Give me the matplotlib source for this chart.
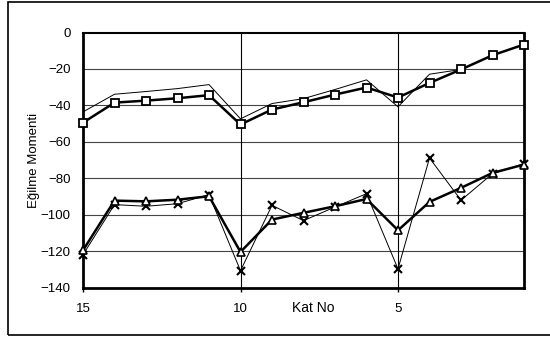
import numpy as np
import matplotlib.pyplot as plt
from matplotlib.patches import Rectangle

# kat numaraları (15 -> 1)
kat = list(range(15, 0, -1))

# üst seri: kare işaretli kalın çizgi ve işaretsiz ince çizgi
ust_kare = [-49.5, -38.5, -37.4, -36.1, -34.4, -50.5, -42.3, -38.3, -34.1, -30.2, -35.7, -27.7, -20.3, -12.5, -6.6]
ust_ince = [-43.6, -33.9, -32.4, -30.8, -28.6, -47.4, -39.0, -36.3, -31.3, -26.0, -40.8, -22.9, -20.3, -12.5, -6.6]

# alt seri: üçgen işaretli kalın çizgi ve çarpı işaretli ince çizgi
alt_ucgen = [-119.6, -92.3, -92.7, -91.8, -89.9, -120.5, -102.7, -99.0, -95.4, -91.4, -108.6, -93.0, -85.3, -77.1, -72.5]
alt_carpi = [-122.0, -94.5, -95.4, -94.0, -89.0, -130.8, -94.9, -103.3, -95.8, -88.5, -129.8, -68.9, -92.1, -77.5, -72.0]

y_ticks = [0, -20, -40, -60, -80, -100, -120, -140]
x_ticks = [15, 10, 5]

plt.rcParams['font.family'] = ['Liberation Sans', 'DejaVu Sans']

fig = plt.figure(figsize=(5.5, 3.37), dpi=100)
fig.patches.append(Rectangle((8 / 550, 2 / 337), 1.0, 333 / 337, transform=fig.transFigure,
                             fill=False, edgecolor='black', linewidth=1.2))

ax = fig.add_axes([83 / 550, 49.5 / 337, 441 / 550, 255 / 337])

# ızgara
for y in y_ticks[1:-1]:
    ax.axhline(y, color='#444444', linewidth=0.8, zorder=1)
for x in x_ticks[1:]:
    ax.axvline(x, color='black', linewidth=0.8, zorder=1)

ax.plot(kat, ust_ince, color='black', linewidth=0.7, zorder=2, clip_on=False)
ax.plot(kat, ust_kare, color='black', linewidth=1.8, marker='s', markersize=5.5,
        markerfacecolor='white', markeredgecolor='black', markeredgewidth=1.3,
        zorder=4, clip_on=False)

ax.plot(kat, alt_carpi, color='black', linewidth=0.7, marker='x', markersize=6,
        markeredgewidth=1.5, zorder=3, clip_on=False)
ax.plot(kat, alt_ucgen, color='black', linewidth=1.8, marker='^', markersize=5.5,
        markerfacecolor='white', markeredgecolor='black', markeredgewidth=1.2,
        zorder=4, clip_on=False)

ax.set_xlim(15, 1)
ax.set_ylim(-140, 0)
ax.set_xticks(x_ticks)
ax.set_yticks(y_ticks)
ax.tick_params(axis='x', direction='out', length=3, width=1, labelsize=9.5, pad=8)
ax.tick_params(axis='y', direction='out', length=0, labelsize=9.5, pad=9)
for s in ['left', 'bottom', 'right']:
    ax.spines[s].set_linewidth(2)
ax.spines['top'].set_linewidth(1.5)

ax.set_ylabel('Eğilme Momenti', fontsize=9.5)
ax.yaxis.set_label_coords((40 - 83) / 441, 0.5)
fig.text(313 / 550, 1 - 308 / 337, 'Kat No', fontsize=10, ha='center', va='center')

fig.savefig('out.png', dpi=100)
